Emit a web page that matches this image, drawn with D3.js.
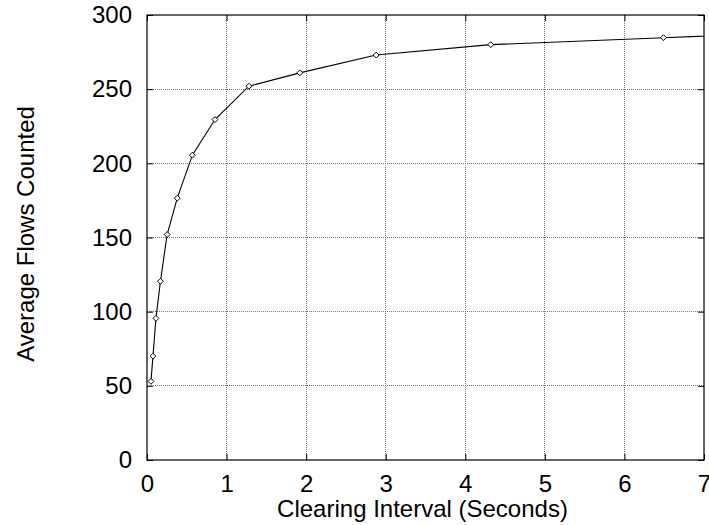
<!DOCTYPE html>
<html>
<head>
<meta charset="utf-8">
<script src="https://cdn.jsdelivr.net/npm/d3@7"></script>
<style>
  html, body { margin: 0; padding: 0; background: #fff; }
  svg { display: block; }
  text { font-family: "Liberation Sans", Arial, Helvetica, sans-serif; fill: #000; }
</style>
</head>
<body>
<svg id="chart" width="709" height="525"></svg>
<script>
// Clearing interval (seconds) and average number of flows counted
const intervals = [0.05, 0.075, 0.1125, 0.169, 0.253, 0.38, 0.57, 0.854, 1.28, 1.92, 2.88, 4.32, 6.49, 9.72];
const flows     = [53, 70, 95.5, 120.5, 152, 176.5, 205.5, 229.5, 252, 261, 273, 280, 284.7, 291.5];
const xTicks = [0, 1, 2, 3, 4, 5, 6, 7];
const yTicks = [0, 50, 100, 150, 200, 250, 300];
const xTitle = "Clearing Interval (Seconds)";
const yTitle = "Average Flows Counted";

const points = intervals.map((x, i) => ({ x, y: flows[i] }));

const svg = d3.select("#chart");
const plotLeft = 147, plotRight = 704, plotTop = 15, plotBottom = 460;

const x = d3.scaleLinear().domain([0, 7]).range([plotLeft, plotRight]);
const y = d3.scaleLinear().domain([0, 300]).range([plotBottom, plotTop]);

svg.append("defs").append("clipPath").attr("id", "plot-clip")
  .append("rect")
  .attr("x", plotLeft).attr("y", plotTop)
  .attr("width", plotRight - plotLeft).attr("height", plotBottom - plotTop);

// dotted grid
const grid = svg.append("g").attr("stroke", "#777").attr("stroke-width", 1)
  .attr("stroke-dasharray", "1,1").attr("shape-rendering", "crispEdges");
grid.selectAll("line.gx").data(xTicks.slice(1, -1)).join("line")
  .attr("x1", d => x(d)).attr("x2", d => x(d))
  .attr("y1", plotTop).attr("y2", plotBottom);
grid.selectAll("line.gy").data(yTicks.slice(1, -1)).join("line")
  .attr("x1", plotLeft).attr("x2", plotRight)
  .attr("y1", d => y(d)).attr("y2", d => y(d));

// axes with inward ticks on all four sides
const tickLen = 6;
const axisStyle = g => {
  g.select(".domain").remove();
  g.selectAll(".tick line").attr("stroke", "#000").attr("stroke-width", 1);
  g.selectAll(".tick text").style("font-size", "24px").attr("fill", "#000");
};

svg.append("g").attr("transform", `translate(0,${plotBottom})`)
  .call(d3.axisBottom(x).tickValues(xTicks).tickFormat(d3.format("d"))
    .tickSizeInner(-tickLen).tickSizeOuter(0).tickPadding(15))
  .call(axisStyle);

svg.append("g").attr("transform", `translate(0,${plotTop})`)
  .call(d3.axisTop(x).tickValues(xTicks).tickFormat("")
    .tickSizeInner(-tickLen).tickSizeOuter(0))
  .call(axisStyle);

svg.append("g").attr("transform", `translate(${plotLeft},0)`)
  .call(d3.axisLeft(y).tickValues(yTicks).tickFormat(d3.format("d"))
    .tickSizeInner(-tickLen).tickSizeOuter(0).tickPadding(15))
  .call(axisStyle);

svg.append("g").attr("transform", `translate(${plotRight},0)`)
  .call(d3.axisRight(y).tickValues(yTicks).tickFormat("")
    .tickSizeInner(-tickLen).tickSizeOuter(0))
  .call(axisStyle);

// plot frame
svg.append("rect")
  .attr("x", plotLeft).attr("y", plotTop)
  .attr("width", plotRight - plotLeft).attr("height", plotBottom - plotTop)
  .attr("fill", "none").attr("stroke", "#000").attr("stroke-width", 1.2);

// data line and diamond markers
const plot = svg.append("g").attr("clip-path", "url(#plot-clip)");
plot.append("path").datum(points)
  .attr("fill", "none").attr("stroke", "#000").attr("stroke-width", 1.1)
  .attr("d", d3.line().x(d => x(d.x)).y(d => y(d.y)));

const diamond = d3.symbol().type(d3.symbolDiamond2).size(22);
plot.selectAll("path.pt").data(points.filter(d => d.x <= 7)).join("path")
  .attr("class", "pt")
  .attr("transform", d => `translate(${x(d.x)},${y(d.y)})`)
  .attr("d", diamond)
  .attr("fill", "#fff").attr("stroke", "#000").attr("stroke-width", 1);

// axis titles
svg.append("text")
  .attr("x", (plotLeft + plotRight) / 2 - 3).attr("y", 517)
  .attr("text-anchor", "middle").style("font-size", "24px")
  .text(xTitle);

svg.append("text")
  .attr("transform", `translate(34,234) rotate(-90)`)
  .attr("text-anchor", "middle").style("font-size", "24px")
  .text(yTitle);
</script>
</body>
</html>
